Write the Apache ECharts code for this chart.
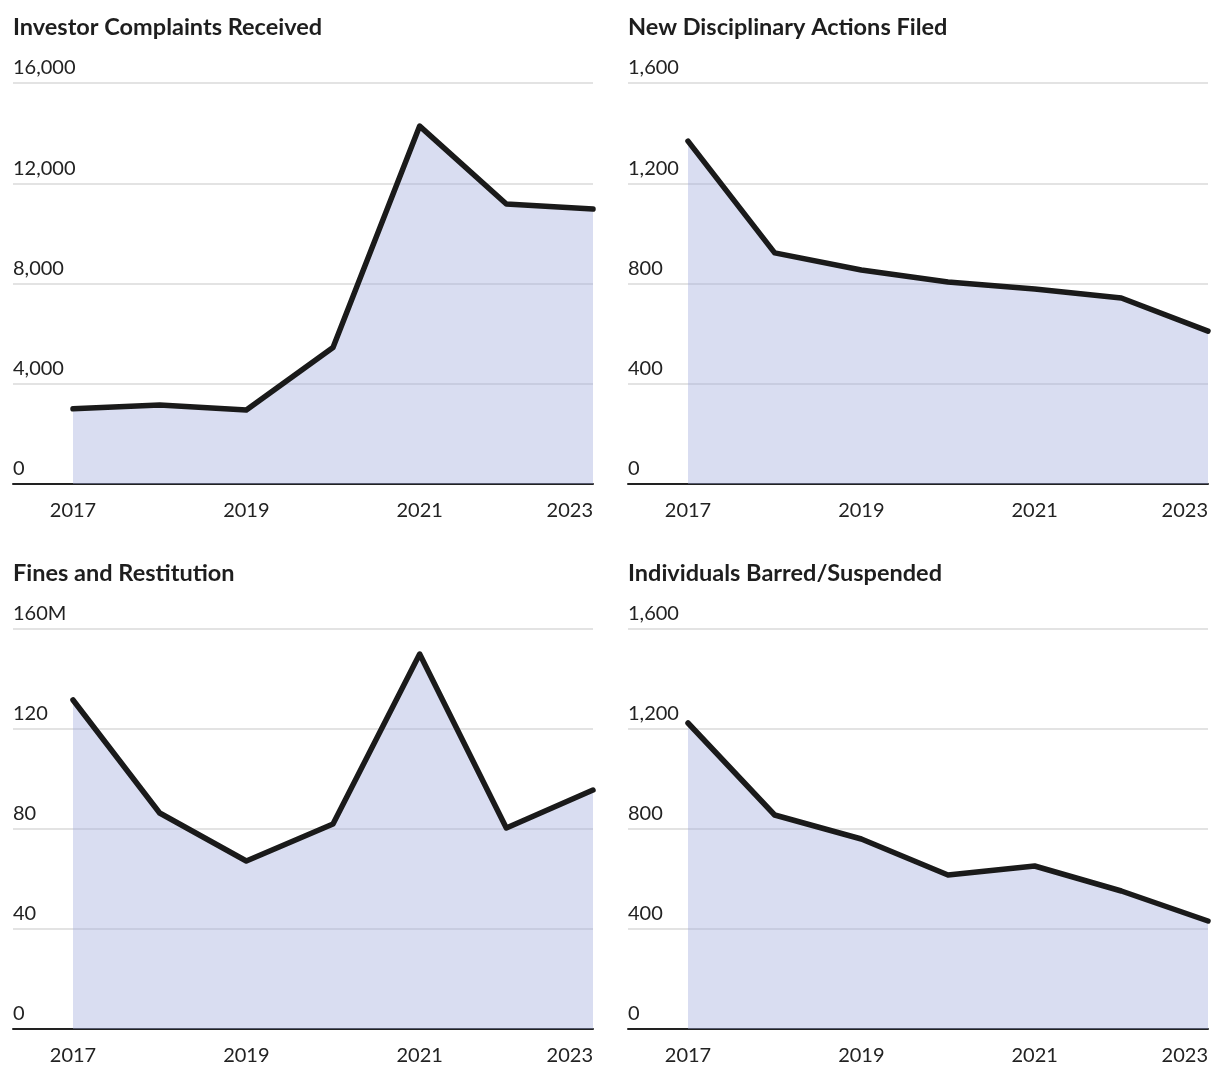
<!DOCTYPE html>
<html><head><meta charset="utf-8">
<script src="https://cdn.jsdelivr.net/npm/echarts@6/dist/echarts.min.js"></script>
<style>html,body{margin:0;padding:0;background:#fff}#c{width:1220px;height:1082px}</style>
</head><body><div id="c"></div>
<script>
const years = [2017, 2018, 2019, 2020, 2021, 2022, 2023];
const xTickLabels = [2017, 2019, 2021, 2023];
const complaints = [3000, 3150, 2950, 5450, 14280, 11170, 10970];
const disciplinary = [1368, 922, 854, 806, 778, 742, 610];
const fines = [131.6, 86.4, 67.2, 82, 150, 80.4, 95.6];
const barred = [1224, 856, 760, 616, 652, 552, 432];
const titles = ['Investor Complaints Received', 'New Disciplinary Actions Filed', 'Fines and Restitution', 'Individuals Barred/Suspended'];
const yMax = [16000, 1600, 160, 1600];
const yInterval = [4000, 400, 40, 400];
const seriesData = [complaints, disciplinary, fines, barred];

const FONT = 'Lato, "Source Sans Pro", sans-serif';
const chart = echarts.init(document.getElementById('c'));
const grids = [
  {left: 13, top: 83, width: 580, height: 401},
  {left: 628, top: 83, width: 580, height: 401},
  {left: 13, top: 629, width: 580, height: 400},
  {left: 628, top: 629, width: 580, height: 400}
];
const xMin = 2017 - 60 / (520 / 6);
const option = {
  animation: false,
  backgroundColor: '#fff',
  title: titles.map((t, i) => ({
    text: t, left: grids[i].left, top: grids[i].top - 68, padding: 0,
    textStyle: {fontFamily: FONT, fontWeight: 'bold', fontSize: 23.5, color: '#1e1e1e'}
  })),
  grid: grids,
  xAxis: grids.map((g, i) => ({
    type: 'value', gridIndex: i, min: xMin, max: 2023,
    axisLine: {show: true, lineStyle: {color: '#222', width: 2}},
    axisTick: {show: false},
    splitLine: {show: false},
    axisLabel: {
      customValues: xTickLabels, margin: 17, alignMaxLabel: 'right',
      fontFamily: FONT, fontSize: 20, color: '#222',
      formatter: v => String(v)
    }
  })),
  yAxis: grids.map((g, i) => ({
    type: 'value', gridIndex: i, min: 0, max: yMax[i], interval: yInterval[i],
    axisLine: {show: false}, axisTick: {show: false},
    splitLine: {show: true, lineStyle: {color: '#e3e3e3', width: 2}},
    axisLabel: {
      inside: true, margin: 0, align: 'left', verticalAlign: 'bottom',
      padding: [0, 0, 5, 0],
      fontFamily: FONT, fontSize: 20, color: '#222',
      formatter: v => {
        let s = v.toLocaleString('en-US');
        if (i === 2 && v === yMax[i]) s += 'M';
        return s;
      }
    }
  })),
  series: seriesData.map((d, i) => ({
    type: 'line', xAxisIndex: i, yAxisIndex: i,
    data: years.map((y, k) => [y, d[k]]),
    symbol: 'none',
    lineStyle: {color: '#1a1a1a', width: 5.5, cap: 'round', join: 'round'},
    areaStyle: {color: 'rgb(160,170,220)', opacity: 0.4},
    z: 3
  }))
};
chart.setOption(option);
</script>
</body></html>
